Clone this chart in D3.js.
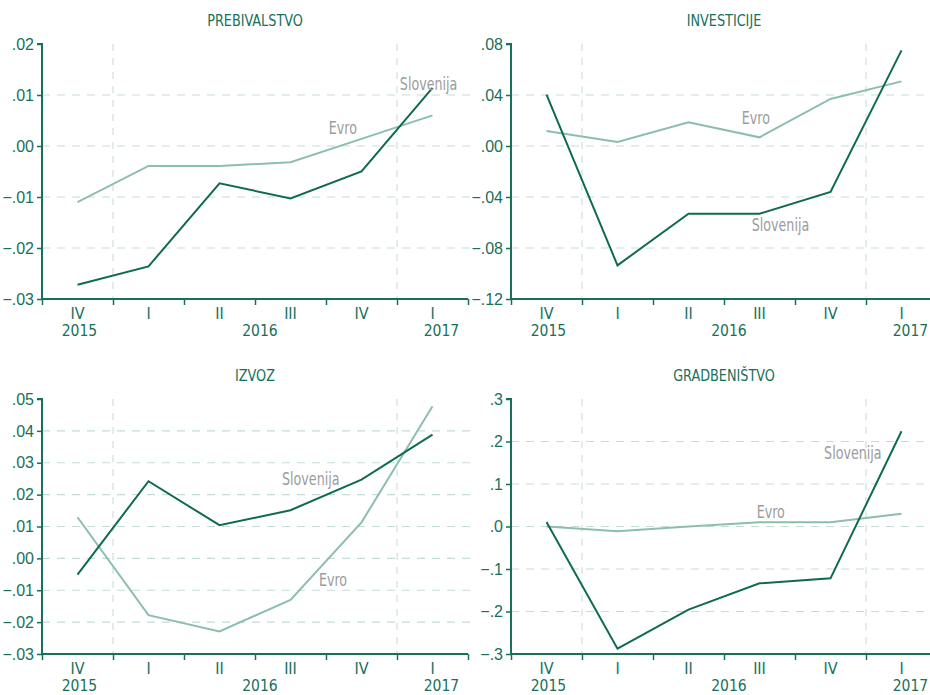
<!DOCTYPE html>
<html>
<head>
<meta charset="utf-8">
<script src="https://cdn.jsdelivr.net/npm/d3@7"></script>
<style>
  body { margin: 0; background: #fff; }
  svg { display: block; font-family: "Liberation Sans Narrow", "DejaVu Sans Condensed", "Roboto", sans-serif; }
</style>
</head>
<body>
<div id="chart"></div>
<script>
// categories along the x axis (quarters)
const quarters = ['IV', 'I', 'II', 'III', 'IV', 'I'];
const years = [
  { label: '2015', at: 0, dx: 2 },
  { label: '2016', at: 2.5, dx: 5 },
  { label: '2017', at: 5, dx: 9 }
];

// series values
const prebSlo  = [-0.0272, -0.0236, -0.0073, -0.0103, -0.0050, 0.0114];
const prebEvro = [-0.0110, -0.0039, -0.0039, -0.0032, 0.0014, 0.0060];
const invSlo   = [0.0403, -0.0936, -0.0531, -0.0531, -0.0361, 0.0750];
const invEvro  = [0.0118, 0.0031, 0.0186, 0.0068, 0.0369, 0.0507];
const izvSlo   = [-0.0051, 0.0242, 0.0104, 0.0151, 0.0247, 0.0388];
const izvEvro  = [0.0129, -0.0178, -0.0229, -0.0130, 0.0113, 0.0477];
const grSlo    = [0.0106, -0.2875, -0.1957, -0.1337, -0.1220, 0.2240];
const grEvro   = [0.000, -0.011, 0.000, 0.010, 0.010, 0.030];

// y tick values
const prebTicks = [-0.03, -0.02, -0.01, 0, 0.01, 0.02];
const invTicks  = [-0.12, -0.08, -0.04, 0, 0.04, 0.08];
const izvTicks  = [-0.03, -0.02, -0.01, 0, 0.01, 0.02, 0.03, 0.04, 0.05];
const grTicks   = [-0.3, -0.2, -0.1, 0, 0.1, 0.2, 0.3];

// label anchors [x index, value]
const panels = [
  { title: 'PREBIVALSTVO', slo: prebSlo, evro: prebEvro, ticks: prebTicks, dec: 2,
    sloLab: [4.54, 0.0110], evroLab: [3.54, 0.0024], col: 0, row: 0 },
  { title: 'INVESTICIJE', slo: invSlo, evro: invEvro, ticks: invTicks, dec: 2,
    sloLab: [2.89, -0.0667], evroLab: [2.75, 0.0173], col: 1, row: 0 },
  { title: 'IZVOZ', slo: izvSlo, evro: izvEvro, ticks: izvTicks, dec: 2,
    sloLab: [2.88, 0.0230], evroLab: [3.40, -0.0087], col: 0, row: 1 },
  { title: 'GRADBENIŠTVO', slo: grSlo, evro: grEvro, ticks: grTicks, dec: 1,
    sloLab: [3.91, 0.159], evroLab: [2.96, 0.020], col: 1, row: 1 }
];

const W = 930, H = 695;
const dark = '#0f6b4f';
const light = '#8cbfaa';
const axisCol = '#17715a';
const gridCol = '#c4ddd3';
const labelCol = '#9b9b9d';

const colX = [42, 511];
const rowY = [44, 399];
const plotW = 426, plotH = 255;

const svg = d3.select('#chart').append('svg')
  .attr('width', W).attr('height', H);

// narrower text: the original uses a condensed face
function narrowText(sel, px, py, sx) {
  return sel.attr('transform', `translate(${px},${py}) scale(${sx},1)`);
}

panels.forEach(p => {
  const x0 = colX[p.col], y0 = rowY[p.row];
  const g = svg.append('g').attr('transform', `translate(${x0},${y0})`);

  const x = d3.scaleLinear().domain([-0.5, quarters.length - 0.5]).range([0, plotW]);
  const y = d3.scaleLinear().domain(d3.extent(p.ticks)).range([plotH, 0]);

  const fmt = v => d3.format(`.${p.dec}f`)(v).replace('0.', '.');

  // title
  g.append('text')
    .call(narrowText, plotW / 2, -18, 0.92)
    .attr('text-anchor', 'middle')
    .attr('fill', axisCol)
    .attr('font-size', '15.5px')
    .text(p.title);

  // horizontal grid
  g.append('g')
    .selectAll('line')
    .data(p.ticks.slice(1, -1))
    .enter().append('line')
    .attr('x1', 0).attr('x2', plotW + 7)
    .attr('y1', d => y(d)).attr('y2', d => y(d))
    .attr('stroke', gridCol).attr('stroke-width', 1.2)
    .attr('stroke-dasharray', '8,7');

  // year separators
  g.append('g')
    .selectAll('line')
    .data([0.5, 4.5])
    .enter().append('line')
    .attr('x1', d => x(d)).attr('x2', d => x(d))
    .attr('y1', 0).attr('y2', plotH)
    .attr('stroke', '#cfe1da').attr('stroke-width', 1.2)
    .attr('stroke-dasharray', '7,7');

  // y axis
  const yAxis = g.append('g')
    .call(d3.axisLeft(y).tickValues(p.ticks).tickFormat(fmt).tickSize(5).tickPadding(3));
  yAxis.select('.domain').attr('stroke', axisCol).attr('stroke-width', 2)
    .attr('d', `M-5,0H0V${plotH}`);
  yAxis.selectAll('.tick line').attr('stroke', axisCol).attr('stroke-width', 1.5);
  yAxis.selectAll('.tick text').attr('fill', axisCol).attr('font-size', '16px')
    .attr('font-family', null);

  // x axis (ticks between quarters)
  const xAxis = g.append('g')
    .attr('transform', `translate(0,${plotH})`)
    .call(d3.axisBottom(x).tickValues(d3.range(-0.5, quarters.length, 1)).tickFormat('').tickSize(6));
  xAxis.select('.domain').attr('stroke', axisCol).attr('stroke-width', 2)
    .attr('d', `M0,0H${plotW}`);
  xAxis.selectAll('.tick line').attr('stroke', axisCol).attr('stroke-width', 1.5);

  // quarter labels
  g.append('g')
    .selectAll('text')
    .data(quarters)
    .enter().append('text')
    .attr('x', (d, i) => x(i)).attr('y', plotH + 20)
    .attr('text-anchor', 'middle')
    .attr('fill', axisCol).attr('font-size', '16px')
    .text(d => d);

  // year labels
  g.append('g')
    .selectAll('text')
    .data(years)
    .enter().append('text')
    .attr('x', d => x(d.at) + d.dx).attr('y', plotH + 37)
    .attr('text-anchor', 'middle')
    .attr('fill', axisCol).attr('font-size', '15.5px')
    .text(d => d.label);

  const line = d3.line()
    .x((d, i) => x(i))
    .y(d => y(d));

  g.append('path')
    .datum(p.evro)
    .attr('fill', 'none')
    .attr('stroke', light)
    .attr('stroke-width', 2)
    .attr('d', line);

  g.append('path')
    .datum(p.slo)
    .attr('fill', 'none')
    .attr('stroke', dark)
    .attr('stroke-width', 2)
    .attr('d', line);

  // series labels
  g.append('text')
    .call(narrowText, x(p.sloLab[0]), y(p.sloLab[1]), 0.83)
    .attr('fill', labelCol).attr('font-size', '17px')
    .text('Slovenija');
  g.append('text')
    .call(narrowText, x(p.evroLab[0]), y(p.evroLab[1]), 0.83)
    .attr('fill', labelCol).attr('font-size', '17px')
    .text('Evro');
});
</script>
</body>
</html>
